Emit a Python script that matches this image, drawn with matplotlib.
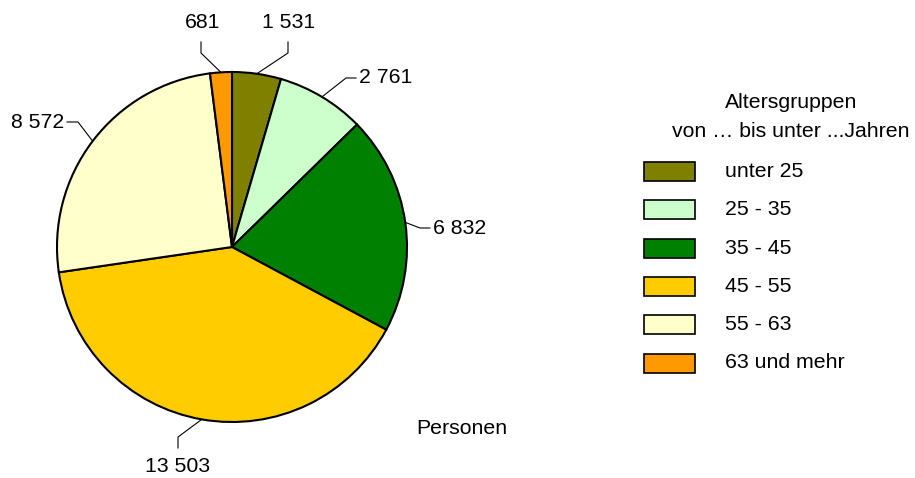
import numpy as np
import matplotlib
matplotlib.use('Agg')
from matplotlib import pyplot as plt
from matplotlib.patches import Rectangle

plt.rcParams['font.family'] = ['Liberation Sans', 'DejaVu Sans']

groups = ['unter 25', '25 - 35', '35 - 45', '45 - 55', '55 - 63', '63 und mehr']
values = [1531, 2761, 6832, 13503, 8572, 681]
labels = ['1 531', '2 761', '6 832', '13 503', '8 572', '681']
colors = ['#808000', '#CCFFCC', '#008000', '#FFCC00', '#FFFFCC', '#FF9900']

W, H = 915, 478
fs = 15.3
fig = plt.figure(figsize=(W / 100, H / 100), dpi=100)
ax = fig.add_axes([0, 0, 1, 1])

def Y(y):
    # pixel row -> data y
    return H - y

cx, cy, r = 232, 247, 175
wedges, _ = ax.pie(values, colors=colors, startangle=90, counterclock=False,
                   center=(cx, Y(cy)), radius=r,
                   wedgeprops=dict(edgecolor='black', linewidth=1.5))

# label layout: (text x, text y, ha, elbow start, elbow end)
layout = [
    (289, 22, 'center', (288, 42), (288, 53)),
    (359, 77, 'left', (356, 78), (346, 78)),
    (433, 228, 'left', (430, 228), (420, 228)),
    (178, 466, 'center', (178, 448), (178, 437)),
    (64, 122, 'right', (67, 122), (78, 122)),
    (203, 22, 'center', (201, 42), (201, 53)),
]

frac = np.cumsum(values) / np.sum(values)
start = np.concatenate([[0], frac[:-1]])
mid = (start + frac) / 2 * 360
for i, lab in enumerate(labels):
    a = np.radians(mid[i])
    ex, ey = cx + r * np.sin(a), cy - r * np.cos(a)
    tx, ty, ha, p1, p2 = layout[i]
    ax.plot([p1[0], p2[0], ex], [Y(p1[1]), Y(p2[1]), Y(ey)], color='black', lw=0.8)
    ax.text(tx, Y(ty), lab, ha=ha, va='center', fontsize=fs)

# legend
ax.text(791, Y(102), 'Altersgruppen', ha='center', va='center', fontsize=fs)
ax.text(791, Y(131), 'von … bis unter ...Jahren', ha='center', va='center', fontsize=fs)
for i, g in enumerate(groups):
    top = 162 + i * 38.3
    ax.add_patch(Rectangle((644, Y(top + 19)), 51, 19, facecolor=colors[i],
                           edgecolor='black', lw=1.2))
    ax.text(725, Y(top + 9.5), g, ha='left', va='center', fontsize=fs)

ax.text(416, Y(428), 'Personen', ha='left', va='center', fontsize=fs)

ax.set_xlim(0, W)
ax.set_ylim(0, H)
ax.set_aspect('auto')
ax.axis('off')

fig.savefig('out.png', dpi=100)
